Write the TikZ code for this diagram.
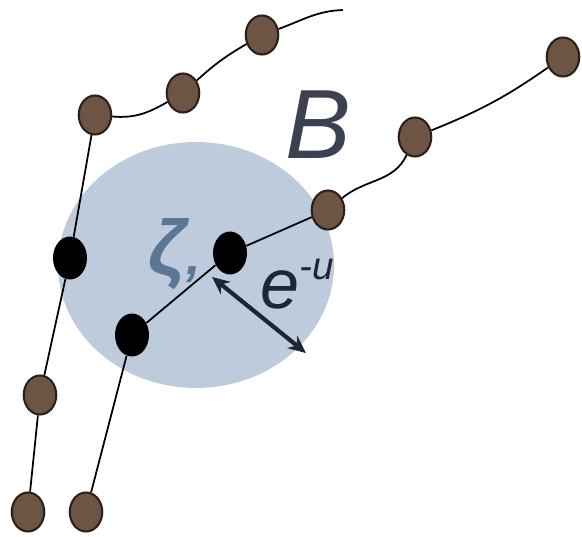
\documentclass[tikz,border=0pt]{standalone}
\usepackage{fontspec}
\setmainfont{Liberation Sans}
\usetikzlibrary{arrows.meta,shapes.geometric}
\definecolor{diskBlue}{HTML}{BECBDD}
\definecolor{beadBrown}{HTML}{6E5443}
\definecolor{beadEdge}{HTML}{2B211A}
\definecolor{zetaBlue}{HTML}{5A7896}
\definecolor{labelInk}{HTML}{3B4150}
\definecolor{radiusInk}{HTML}{1E2535}

\begin{document}
\begin{tikzpicture}[x=0.02cm, y=-0.02cm, every node/.style={inner sep=0pt}]
\tikzset{bead/.style={ellipse,draw=beadEdge,line width=1.2pt,fill=beadBrown,minimum width=0.65cm,minimum height=0.78cm},
  hotbead/.style={ellipse,fill=black,minimum width=0.68cm,minimum height=0.86cm},
  chain/.style={line width=1pt,black}}
\useasboundingbox (0,0) rectangle (582,537);
\fill[diskBlue] (196,265) ellipse [x radius=2.76cm, y radius=2.46cm];
% left chain
\node[bead] (a1) at (28,512) {};
\node[bead] (a2) at (40,395) {};
\node[hotbead] (a3) at (70,258) {};
\node[bead] (a4) at (95,115) {};
\node[bead] (a5) at (183,93) {};
\node[bead] (a6) at (262,35) {};
\coordinate (a7) at (343,10);
% right chain
\node[bead] (b1) at (86,512) {};
\node[hotbead] (b2) at (132,335) {};
\node[hotbead] (b3) at (230,253) {};
\node[bead] (b4) at (328,210) {};
\node[bead] (b5) at (415,137) {};
\node[bead] (b6) at (563,57) {};
\draw[chain] (a1)--(a2)--(a3)--(a4);
\draw[chain] (a4) to[out=-5,in=210] (a5);
\draw[chain] (a5) to[bend left=6] (a6);
\draw[chain] (a6) to[out=20,in=182] (a7);
\draw[chain] (b1)--(b2)--(b3)--(b4);
\draw[chain] (b4) to[out=40,in=245] (b5);
\draw[chain] (b5) to[out=22,in=215] (b6);
% radius arrow
\coordinate (rtip) at (212,277);
\coordinate (rend) at (306,353);
\draw[{Stealth[length=10pt,width=9pt]}-{Stealth[length=10pt,width=9pt]},line width=2.4pt,radiusInk] (rtip)--(rend);
% labels
\node[font=\fontsize{56}{56}\selectfont\itshape,text=labelInk] (blabel) at (318,125) {B};
\node[font=\fontsize{44}{44}\selectfont\bfseries\itshape,text=zetaBlue] (zeta) at (175,254) {ζ\fontsize{30}{30}\selectfont,};
\node[font=\fontsize{40}{40}\selectfont\itshape,text=radiusInk] (elabel) at (297,284) {e\raisebox{0.42em}{\fontsize{22}{22}\selectfont -u}};
\end{tikzpicture}
\end{document}
